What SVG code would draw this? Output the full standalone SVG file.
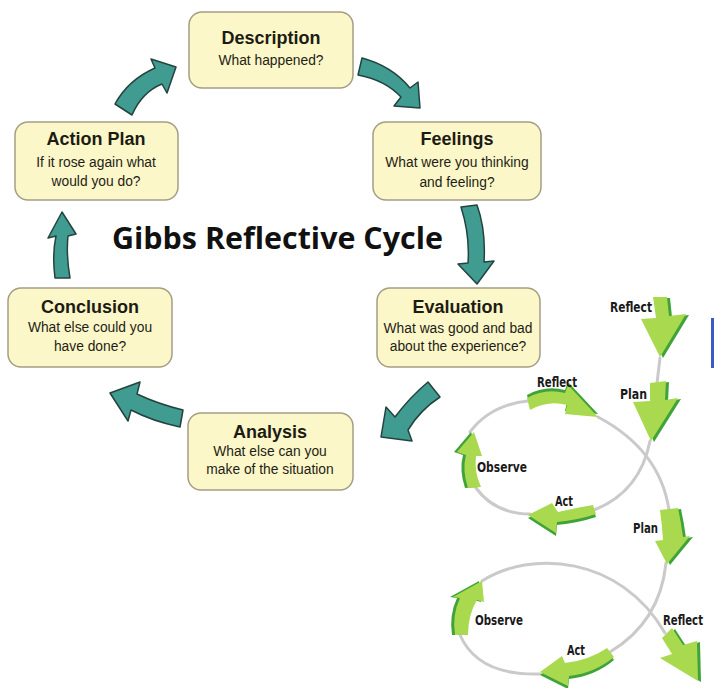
<svg xmlns="http://www.w3.org/2000/svg" width="714" height="688" viewBox="0 0 714 688">
<style>
.box{fill:#fcf7c9;stroke:#a49e84;stroke-width:1.5}
.t{font-family:"Liberation Sans",Arial,sans-serif;font-weight:bold;font-size:18px;fill:#1c1c14;text-anchor:middle}
.s{font-family:"Liberation Sans",Arial,sans-serif;font-size:13.8px;fill:#1e1e16;text-anchor:middle}
.teal{fill:#409c90;stroke:#24433f;stroke-width:1.5;stroke-linejoin:round}
.gray{fill:none;stroke:#cacaca;stroke-width:3;stroke-linecap:round}
.gl{fill:#a9d94f}
.gd{fill:#3fa33a}
.lab{font-family:"DejaVu Sans Condensed","DejaVu Sans",sans-serif;font-weight:bold;font-size:14px;fill:#1a1a1a}
</style>
<rect width="714" height="688" fill="#ffffff"/>

<text x="112" y="249" font-family="'Open Sans','Liberation Sans',sans-serif" font-weight="bold" font-size="31" fill="#111" textLength="331" lengthAdjust="spacingAndGlyphs">Gibbs Reflective Cycle</text>

<g id="description">
<rect class="box" x="189" y="12" width="164" height="76" rx="13"/>
<text class="t" x="271" y="44">Description</text>
<text class="s" x="271" y="65">What happened?</text>
</g>
<g id="feelings">
<rect class="box" x="373" y="122" width="168" height="78" rx="13"/>
<text class="t" x="457" y="145">Feelings</text>
<text class="s" x="457" y="167">What were you thinking</text>
<text class="s" x="457" y="187">and feeling?</text>
</g>
<g id="evaluation">
<rect class="box" x="377" y="288" width="163" height="79" rx="13"/>
<text class="t" x="458" y="313">Evaluation</text>
<text class="s" x="458" y="333">What was good and bad</text>
<text class="s" x="458" y="351">about the experience?</text>
</g>
<g id="analysis">
<rect class="box" x="188" y="413" width="165" height="77" rx="13"/>
<text class="t" x="270" y="438">Analysis</text>
<text class="s" x="270" y="456">What else can you</text>
<text class="s" x="270" y="474">make of the situation</text>
</g>
<g id="conclusion">
<rect class="box" x="8" y="288" width="164" height="79" rx="13"/>
<text class="t" x="90" y="313">Conclusion</text>
<text class="s" x="90" y="332">What else could you</text>
<text class="s" x="90" y="351">have done?</text>
</g>
<g id="action-plan">
<rect class="box" x="15" y="122" width="163" height="78" rx="13"/>
<text class="t" x="96" y="145">Action Plan</text>
<text class="s" x="96" y="167">If it rose again what</text>
<text class="s" x="96" y="186">would you do?</text>
</g>

<g id="connectors">
<path class="teal" d="M115,104 Q128,80 155,68 L151,59 L176,67 L167,93 L162,84 Q142,92 132,115 Z"/>
<path class="teal" d="M362,58 Q392,66 410,88 L418,82 L420,108 L394,106 L401,97 Q385,80 358,75 Z"/>
<path class="teal" d="M461,207 L477,205 Q486,230 484,262 L494,261 L477,284 L458,264 L468,263 Q470,235 461,207 Z"/>
<path class="teal" d="M428,382 L440,397 Q420,410 408,430 L412,441 L381,437 L386,407 L395,417 Q410,397 428,382 Z"/>
<path class="teal" d="M183,410 Q158,404 137,394 L140,382 L110,393 L128,421 L131,410 Q152,421 180,427 Z"/>
<path class="teal" d="M55,278 Q52,255 56,236 L48,238 L62,212 L76,234 L68,236 Q66,255 70,278 Z"/>
</g>

<g id="action-research-figure">
<rect x="711" y="318" width="3" height="50" fill="#3a5bc7"/>
<g id="gray-lines">
<path class="gray" d="M660,358 L657,383"/>
<path class="gray" d="M650,441 Q640,492 594,510"/>
<path class="gray" d="M476,488 Q495,514 530,514"/>
<path class="gray" d="M470,432 Q490,405 528,401"/>
<path class="gray" d="M598,417 Q660,450 669,510"/>
<path class="gray" d="M666,563 Q660,622 610,652"/>
<path class="gray" d="M540,674 Q478,676 460,635"/>
<path class="gray" d="M482,581 C530,550 620,555 665,633"/>
</g>
<g id="green-arrows">
<g transform="translate(3,1)" class="gd">
<polygon points="653,297 667,297 669,316 686,314 660,357 641,319 656,318"/>
<polygon points="650,383 666,381 665,400 678,398 651,441 633,402 650,401"/>
<path d="M660,510 L678,508 Q681,522 683,537 L690,536 L667,564 L655,541 L663,540 Q662,525 660,510 Z"/>
<polygon points="662,638 672,628 683,645 697,641 698,681 660,658 672,654"/>
</g>
<g class="gl">
<polygon points="653,297 667,297 669,316 686,314 660,357 641,319 656,318"/>
<polygon points="650,383 666,381 665,400 678,398 651,441 633,402 650,401"/>
<path d="M660,510 L678,508 Q681,522 683,537 L690,536 L667,564 L655,541 L663,540 Q662,525 660,510 Z"/>
<polygon points="662,638 672,628 683,645 697,641 698,681 660,658 672,654"/>
</g>
<path class="gd" transform="translate(0,-3)" d="M527,398 Q545,388 565,393 L568,385 L598,417 L565,414 L567,405 Q548,400 530,410 Z"/>
<path class="gl" d="M527,398 Q545,388 565,393 L568,385 L598,417 L565,414 L567,405 Q548,400 530,410 Z"/>
<path class="gd" transform="translate(-3,0)" d="M468,488 Q462,470 466,455 L457,452 L474,432 L482,456 L476,456 Q474,472 481,487 Z"/>
<path class="gl" d="M468,488 Q462,470 466,455 L457,452 L474,432 L482,456 L476,456 Q474,472 481,487 Z"/>
<path class="gd" transform="translate(0,3)" d="M593,505 Q575,508 558,512 L552,503 L528,515 L556,533 L557,522 Q578,520 596,514 Z"/>
<path class="gl" d="M593,505 Q575,508 558,512 L552,503 L528,515 L556,533 L557,522 Q578,520 596,514 Z"/>
<path class="gd" transform="translate(-3,0)" d="M455,635 Q452,615 460,598 L453,597 L482,581 L484,602 L477,600 Q468,615 468,635 Z"/>
<path class="gl" d="M455,635 Q452,615 460,598 L453,597 L482,581 L484,602 L477,600 Q468,615 468,635 Z"/>
<path class="gd" transform="translate(0,3)" d="M607,648 Q590,660 565,663 L562,656 L540,672 L568,686 L569,676 Q595,673 614,657 Z"/>
<path class="gl" d="M607,648 Q590,660 565,663 L562,656 L540,672 L568,686 L569,676 Q595,673 614,657 Z"/>
</g>
<g id="labels">
<text class="lab" x="610" y="312" textLength="42" lengthAdjust="spacingAndGlyphs">Reflect</text>
<text class="lab" x="620" y="399" textLength="27" lengthAdjust="spacingAndGlyphs">Plan</text>
<text class="lab" x="537" y="387" textLength="40" lengthAdjust="spacingAndGlyphs">Reflect</text>
<text class="lab" x="477" y="472" textLength="50" lengthAdjust="spacingAndGlyphs">Observe</text>
<text class="lab" x="555" y="506" textLength="18" lengthAdjust="spacingAndGlyphs">Act</text>
<text class="lab" x="633" y="533" textLength="25" lengthAdjust="spacingAndGlyphs">Plan</text>
<text class="lab" x="475" y="625" textLength="48" lengthAdjust="spacingAndGlyphs">Observe</text>
<text class="lab" x="663" y="625" font-size="12" textLength="40" lengthAdjust="spacingAndGlyphs">Reflect</text>
<text class="lab" x="567" y="655" textLength="18" lengthAdjust="spacingAndGlyphs">Act</text>
</g>
</g>
</svg>
